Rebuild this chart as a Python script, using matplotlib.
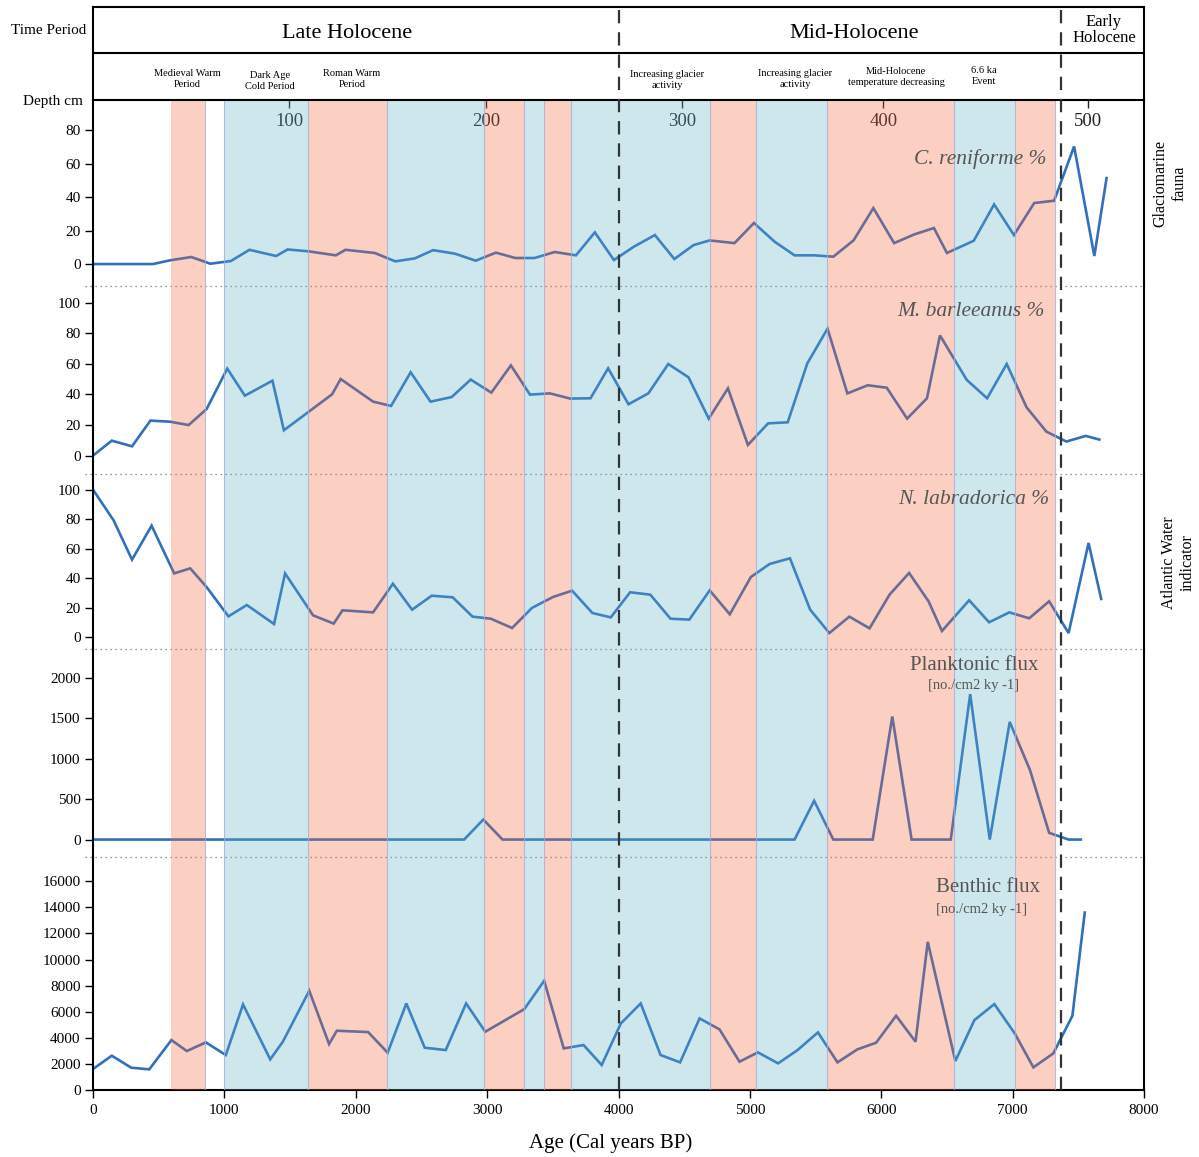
import matplotlib
matplotlib.use("Agg")
import matplotlib.pyplot as plt

plt.rcParams['font.family'] = ['Liberation Serif', 'DejaVu Serif']

# ---------------- data ----------------
reniforme_age = [0, 457, 585, 748, 893, 1049, 1191, 1394, 1481, 1640, 1849, 1922, 2145, 2301, 2450,
                 2589, 2755, 2913, 3067, 3215, 3361, 3515, 3676, 3820, 3965, 4116, 4277, 4425, 4571,
                 4693, 4883, 5031, 5189, 5340, 5489, 5635, 5789, 5940, 6098, 6252, 6401, 6500, 6704,
                 6859, 7010, 7164, 7316, 7468, 7622, 7715]
reniforme_val = [0, 0, 2.2, 4.2, 0.2, 1.8, 8.5, 4.8, 8.7, 7.6, 5.2, 8.5, 6.6, 1.6, 3.4,
                 8.3, 6.2, 2.0, 6.8, 3.6, 3.6, 7.2, 5.2, 18.9, 2.4, 10.3, 17.3, 3.0, 11.3,
                 14.1, 12.5, 24.5, 13.3, 5.2, 5.2, 4.4, 14.1, 33.4, 12.5, 17.7, 21.5, 6.6, 13.9,
                 35.6, 17.3, 36.4, 37.8, 70.2, 4.8, 51.3]

barleeanus_age = [0, 143, 297, 437, 585, 728, 865, 1022, 1156, 1366, 1453, 1820, 1885, 2132, 2269,
                  2418, 2569, 2730, 2875, 3032, 3181, 3326, 3478, 3632, 3787, 3921, 4076, 4227, 4379,
                  4533, 4687, 4833, 4985, 5139, 5288, 5437, 5591, 5742, 5897, 6042, 6197, 6348, 6447,
                  6651, 6806, 6955, 7106, 7257, 7409, 7557, 7660]
barleeanus_val = [0, 9.8, 6.1, 22.9, 22.2, 20.0, 30.5, 56.9, 39.2, 49.0, 16.6, 40.1, 50.1, 35.3, 32.5,
                  54.5, 35.3, 38.3, 49.7, 41.2, 59.0, 39.9, 40.7, 37.3, 37.5, 57.1, 33.6, 40.7, 59.9,
                  51.2, 24.2, 44.0, 7.0, 21.1, 21.8, 60.3, 83.0, 40.7, 46.0, 44.4, 24.2, 37.5, 78.6,
                  49.5, 37.5, 59.9, 31.6, 15.7, 9.2, 12.9, 10.5]

labradorica_age = [0, 157, 297, 446, 618, 740, 865, 1031, 1171, 1378, 1462, 1675, 1832, 1899, 2132,
                   2283, 2429, 2578, 2738, 2889, 3029, 3190, 3341, 3501, 3647, 3801, 3941, 4088, 4242,
                   4396, 4539, 4694, 4847, 5008, 5151, 5305, 5459, 5605, 5757, 5911, 6063, 6212, 6360,
                   6462, 6669, 6821, 6975, 7126, 7278, 7426, 7578, 7674]
labradorica_val = [100, 79.2, 52.6, 75.6, 43.3, 46.7, 34.0, 14.2, 21.9, 9.0, 43.3, 14.9, 9.3, 18.3, 16.9,
                   36.3, 18.7, 28.2, 27.1, 14.0, 12.6, 6.3, 19.9, 27.3, 31.6, 16.5, 13.5, 30.5, 28.9,
                   12.6, 12.0, 31.8, 15.6, 40.9, 49.7, 53.5, 18.7, 2.9, 14.0, 6.1, 28.9, 43.6, 24.4,
                   4.3, 25.1, 10.2, 16.9, 12.9, 24.4, 2.9, 63.9, 26.0]

planktonic_age = [0, 2825, 2971, 3117, 5340, 5489, 5635, 5935, 6084, 6231, 6529, 6677, 6826, 6978,
                  7132, 7278, 7426, 7519]
planktonic_val = [0, 0, 248, 0, 0, 480, 0, 0, 1524, 0, 0, 1801, 0, 1457, 861, 83, 0, 0]

benthic_age = [0, 143, 291, 428, 597, 714, 859, 1011, 1142, 1349, 1445, 1646, 1797, 1856, 2094,
               2243, 2385, 2525, 2685, 2840, 2986, 3283, 3434, 3583, 3734, 3872, 4018, 4169, 4320,
               4469, 4617, 4769, 4921, 5061, 5215, 5363, 5518, 5667, 5818, 5961, 6113, 6261, 6354,
               6564, 6709, 6861, 7016, 7158, 7310, 7455, 7549]
benthic_val = [1608, 2629, 1710, 1582, 3828, 2986, 3649, 2680, 6559, 2348, 3700, 7605, 3522, 4543, 4440,
               2858, 6635, 3241, 3062, 6635, 4466, 6201, 8371, 3190, 3445, 1914, 5104, 6635, 2680,
               2118, 5487, 4645, 2169, 2884, 2042, 3062, 4415, 2118, 3113, 3624, 5691, 3700, 11356,
               2220, 5359, 6584, 4338, 1735, 2807, 5691, 13602]

band_start = [590, 1000, 1640, 2240, 2980, 3280, 3430, 3640, 4700, 5050, 5590, 6555, 7020]
band_end = [850, 1640, 2240, 2980, 3280, 3430, 3640, 4700, 5050, 5590, 6555, 7020, 7325]
band_kind = ['warm', 'cold', 'warm', 'cold', 'warm', 'cold', 'warm', 'cold', 'warm', 'cold',
             'warm', 'cold', 'warm']

period_bounds = [4000, 7365]
period_names = ['Late Holocene', 'Mid-Holocene', 'Early\nHolocene']
period_pos = [1933, 5792, 7695]

event_names = ['Medieval Warm\nPeriod', 'Dark Age\nCold Period', 'Roman Warm\nPeriod',
               'Increasing glacier\nactivity', 'Increasing glacier\nactivity',
               'Mid-Holocene\ntemperature decreasing', '6.6 ka\nEvent']
event_pos = [715, 1347, 1971, 4369, 5343, 6112, 6782]
event_y = [79, 81, 79, 80, 79, 77, 76]

depth_ages = [1492, 2991, 4483, 6017, 7577]
depth_labels = ['100', '200', '300', '400', '500']

age_ticks = [0, 1000, 2000, 3000, 4000, 5000, 6000, 7000, 8000]

# ---------------- layout helpers ----------------
W, H = 1199, 1157
fig = plt.figure(figsize=(W / 100, H / 100), dpi=100)
fig.patch.set_facecolor('white')

def fx(px):
    return px / W

def fy(py):
    return 1 - py / H

L, R = 93, 1144
LINE = '#3170bd'
WARM = '#f2643a'
COLD = '#5fb2c6'
EDGE = '#a9acd9'

panels = [(100, 286), (286, 474), (474, 649), (649, 857), (857, 1090)]
ylims = [(-13.1, 97.9), (-12.0, 110.9), (-7.9, 110.6), (-216, 2360), (0, 17860)]
yticks = [[0, 20, 40, 60, 80], [0, 20, 40, 60, 80, 100], [0, 20, 40, 60, 80, 100],
          [0, 500, 1000, 1500, 2000], list(range(0, 16001, 2000))]
series = [(reniforme_age, reniforme_val), (barleeanus_age, barleeanus_val),
          (labradorica_age, labradorica_val), (planktonic_age, planktonic_val),
          (benthic_age, benthic_val)]

axes = []
for i, ((top, bot), yl, yt, (xa, ya)) in enumerate(zip(panels, ylims, yticks, series)):
    ax = fig.add_axes([fx(L), fy(bot), fx(R) - fx(L), (bot - top) / H])
    ax.set_xlim(0, 8000)
    ax.set_ylim(*yl)
    ax.set_facecolor('none')
    ax.plot(xa, ya, color=LINE, lw=1.9, zorder=2, solid_joinstyle='miter')
    for s, e, k in zip(band_start, band_end, band_kind):
        ax.axvspan(s, e, color=WARM if k == 'warm' else COLD, alpha=0.3, lw=0, zorder=3)
    for b in sorted(set(band_start[1:] + band_end)):
        ax.axvline(b, color=EDGE, lw=0.8, alpha=0.8, zorder=3)
    ax.set_yticks(yt)
    ax.tick_params(axis='y', direction='out', length=6, width=1.0, labelsize=11, pad=3)
    for sp in ['top', 'bottom']:
        ax.spines[sp].set_visible(False)
    ax.spines['left'].set_linewidth(1.5)
    ax.spines['right'].set_linewidth(1.5)
    ax.spines['left'].set_zorder(5)
    ax.spines['right'].set_zorder(5)
    if i < 4:
        ax.set_xticks([])
        ax.plot([-0.008, 1.0], [0, 0], transform=ax.transAxes, ls=(0, (1, 3)),
                color='#777777', lw=0.9, clip_on=False, zorder=4)
    else:
        ax.spines['bottom'].set_visible(True)
        ax.spines['bottom'].set_linewidth(1.5)
        ax.set_xticks(age_ticks)
        ax.tick_params(axis='x', direction='out', length=6, width=1.0, labelsize=11, pad=4)
    axes.append(ax)

# depth scale at top of first panel
ax1 = axes[0]
ax1.vlines(depth_ages, 1 - 8 / 186, 1, transform=ax1.get_xaxis_transform(),
           color='#222222', lw=1.0, zorder=1)
for a, lab in zip(depth_ages, depth_labels):
    ax1.text(a, 1 - 22 / 186, lab, transform=ax1.get_xaxis_transform(), ha='center',
             va='center', fontsize=13.5, color='#222222', zorder=1)

# series labels
lab_col = '#555555'
fig.text(fx(1046), fy(159), 'C. reniforme %', ha='right', va='center', fontsize=15.5,
         style='italic', color=lab_col)
fig.text(fx(1045), fy(312), 'M. barleeanus %', ha='right', va='center', fontsize=15.5,
         style='italic', color=lab_col)
fig.text(fx(1049), fy(500), 'N. labradorica %', ha='right', va='center', fontsize=15.5,
         style='italic', color=lab_col)
fig.text(fx(974), fy(665), 'Planktonic flux', ha='center', va='center', fontsize=15,
         color=lab_col)
fig.text(fx(974), fy(686), '[no./cm2 ky -1]', ha='center', va='center', fontsize=10.5,
         color=lab_col)
fig.text(fx(936), fy(888), 'Benthic flux', ha='left', va='center', fontsize=15,
         color=lab_col)
fig.text(fx(936), fy(910), '[no./cm2 ky -1]', ha='left', va='center', fontsize=10.5,
         color=lab_col)

# right-side group labels
fig.text(fx(1170), fy(183), 'Glaciomarine\nfauna', rotation=90, ha='center', va='center',
         fontsize=11.5, linespacing=1.2)
fig.text(fx(1178), fy(563), 'Atlantic Water\nindicator', rotation=90, ha='center',
         va='center', fontsize=11.5, linespacing=1.2)

# header
hdr = fig.add_axes([fx(L), fy(100), fx(R) - fx(L), (100 - 7) / H])
hdr.set_xlim(0, 8000)
hdr.set_ylim(0, 1)
hdr.set_xticks([])
hdr.set_yticks([])
for sp in hdr.spines.values():
    sp.set_linewidth(1.5)
hdr.axhline((100 - 53) / 93, color='black', lw=1.5)
for name, pos in zip(period_names, period_pos):
    if '\n' in name:
        hdr.text(pos, (100 - 30) / 93, name, ha='center', va='center', fontsize=12,
                 linespacing=1.05)
    else:
        hdr.text(pos, (100 - 33) / 93, name, ha='center', va='center', fontsize=16)
for name, pos, ey in zip(event_names, event_pos, event_y):
    hdr.text(pos, (100 - ey) / 93, name, ha='center', va='center', fontsize=7.5,
             linespacing=1.4)

fig.text(fx(49), fy(31), 'Time Period', ha='center', va='center', fontsize=11)
fig.text(fx(53), fy(101), 'Depth cm', ha='center', va='center', fontsize=11)
fig.text(fx(611), fy(1143), 'Age (Cal years BP)', ha='center', va='center', fontsize=15)

# overlay with dashed period boundaries
ov = fig.add_axes([fx(L), fy(1090), fx(R) - fx(L), (1090 - 7) / H])
ov.set_xlim(0, 8000)
ov.set_ylim(0, 1)
ov.axis('off')
ov.patch.set_visible(False)
for b in period_bounds:
    ov.axvline(b, color='#333333', lw=1.6, ls=(0, (6, 4)))

fig.savefig('out.png', dpi=100)
